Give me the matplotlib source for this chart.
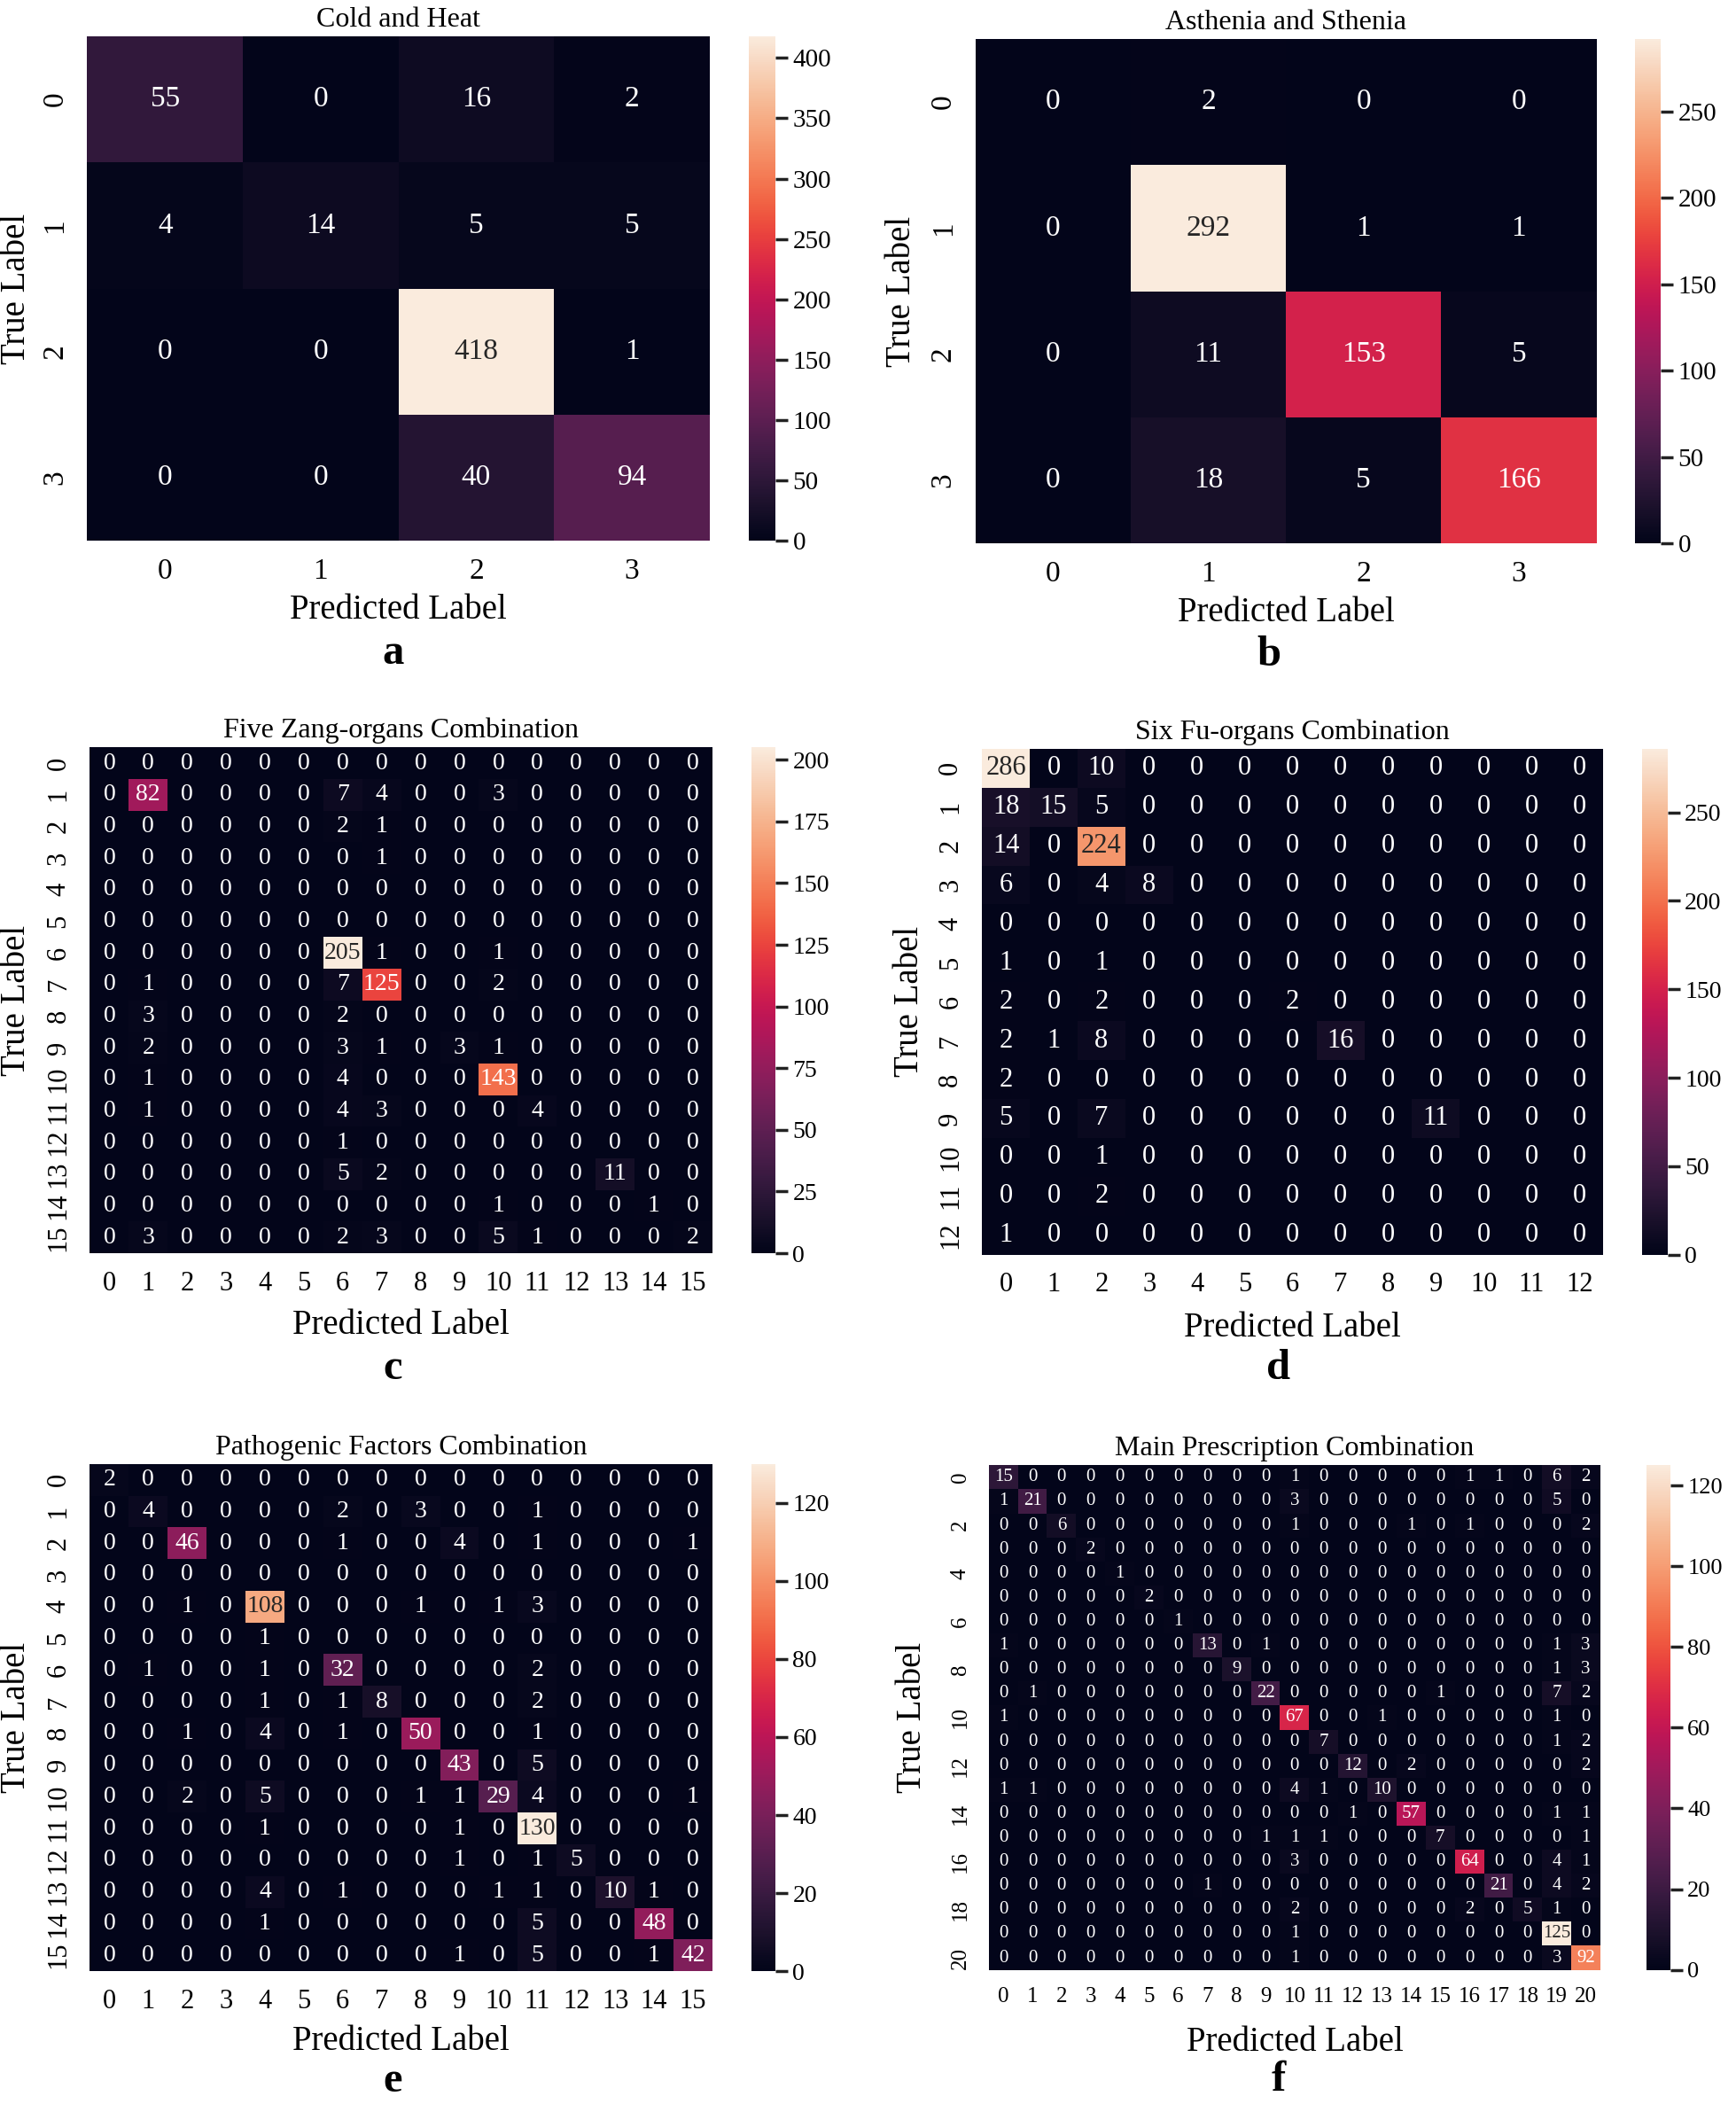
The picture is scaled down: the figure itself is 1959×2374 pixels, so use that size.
import numpy as np
import matplotlib.pyplot as plt
import seaborn as sns
from matplotlib.ticker import MultipleLocator

plt.rcParams['font.family'] = 'serif'
plt.rcParams['font.serif'] = ['Liberation Serif', 'DejaVu Serif']

# ---- datos de las matrices de confusion ----
cold_heat = [[55, 0, 16, 2],
             [4, 14, 5, 5],
             [0, 0, 418, 1],
             [0, 0, 40, 94]]

asthenia_sthenia = [[0, 2, 0, 0],
                    [0, 292, 1, 1],
                    [0, 11, 153, 5],
                    [0, 18, 5, 166]]

five_zang = [[0, 0, 0, 0, 0, 0, 0, 0, 0, 0, 0, 0, 0, 0, 0, 0],
             [0, 82, 0, 0, 0, 0, 7, 4, 0, 0, 3, 0, 0, 0, 0, 0],
             [0, 0, 0, 0, 0, 0, 2, 1, 0, 0, 0, 0, 0, 0, 0, 0],
             [0, 0, 0, 0, 0, 0, 0, 1, 0, 0, 0, 0, 0, 0, 0, 0],
             [0, 0, 0, 0, 0, 0, 0, 0, 0, 0, 0, 0, 0, 0, 0, 0],
             [0, 0, 0, 0, 0, 0, 0, 0, 0, 0, 0, 0, 0, 0, 0, 0],
             [0, 0, 0, 0, 0, 0, 205, 1, 0, 0, 1, 0, 0, 0, 0, 0],
             [0, 1, 0, 0, 0, 0, 7, 125, 0, 0, 2, 0, 0, 0, 0, 0],
             [0, 3, 0, 0, 0, 0, 2, 0, 0, 0, 0, 0, 0, 0, 0, 0],
             [0, 2, 0, 0, 0, 0, 3, 1, 0, 3, 1, 0, 0, 0, 0, 0],
             [0, 1, 0, 0, 0, 0, 4, 0, 0, 0, 143, 0, 0, 0, 0, 0],
             [0, 1, 0, 0, 0, 0, 4, 3, 0, 0, 0, 4, 0, 0, 0, 0],
             [0, 0, 0, 0, 0, 0, 1, 0, 0, 0, 0, 0, 0, 0, 0, 0],
             [0, 0, 0, 0, 0, 0, 5, 2, 0, 0, 0, 0, 0, 11, 0, 0],
             [0, 0, 0, 0, 0, 0, 0, 0, 0, 0, 1, 0, 0, 0, 1, 0],
             [0, 3, 0, 0, 0, 0, 2, 3, 0, 0, 5, 1, 0, 0, 0, 2]]

six_fu = [[286, 0, 10, 0, 0, 0, 0, 0, 0, 0, 0, 0, 0],
          [18, 15, 5, 0, 0, 0, 0, 0, 0, 0, 0, 0, 0],
          [14, 0, 224, 0, 0, 0, 0, 0, 0, 0, 0, 0, 0],
          [6, 0, 4, 8, 0, 0, 0, 0, 0, 0, 0, 0, 0],
          [0, 0, 0, 0, 0, 0, 0, 0, 0, 0, 0, 0, 0],
          [1, 0, 1, 0, 0, 0, 0, 0, 0, 0, 0, 0, 0],
          [2, 0, 2, 0, 0, 0, 2, 0, 0, 0, 0, 0, 0],
          [2, 1, 8, 0, 0, 0, 0, 16, 0, 0, 0, 0, 0],
          [2, 0, 0, 0, 0, 0, 0, 0, 0, 0, 0, 0, 0],
          [5, 0, 7, 0, 0, 0, 0, 0, 0, 11, 0, 0, 0],
          [0, 0, 1, 0, 0, 0, 0, 0, 0, 0, 0, 0, 0],
          [0, 0, 2, 0, 0, 0, 0, 0, 0, 0, 0, 0, 0],
          [1, 0, 0, 0, 0, 0, 0, 0, 0, 0, 0, 0, 0]]

pathogenic = [[2, 0, 0, 0, 0, 0, 0, 0, 0, 0, 0, 0, 0, 0, 0, 0],
              [0, 4, 0, 0, 0, 0, 2, 0, 3, 0, 0, 1, 0, 0, 0, 0],
              [0, 0, 46, 0, 0, 0, 1, 0, 0, 4, 0, 1, 0, 0, 0, 1],
              [0, 0, 0, 0, 0, 0, 0, 0, 0, 0, 0, 0, 0, 0, 0, 0],
              [0, 0, 1, 0, 108, 0, 0, 0, 1, 0, 1, 3, 0, 0, 0, 0],
              [0, 0, 0, 0, 1, 0, 0, 0, 0, 0, 0, 0, 0, 0, 0, 0],
              [0, 1, 0, 0, 1, 0, 32, 0, 0, 0, 0, 2, 0, 0, 0, 0],
              [0, 0, 0, 0, 1, 0, 1, 8, 0, 0, 0, 2, 0, 0, 0, 0],
              [0, 0, 1, 0, 4, 0, 1, 0, 50, 0, 0, 1, 0, 0, 0, 0],
              [0, 0, 0, 0, 0, 0, 0, 0, 0, 43, 0, 5, 0, 0, 0, 0],
              [0, 0, 2, 0, 5, 0, 0, 0, 1, 1, 29, 4, 0, 0, 0, 1],
              [0, 0, 0, 0, 1, 0, 0, 0, 0, 1, 0, 130, 0, 0, 0, 0],
              [0, 0, 0, 0, 0, 0, 0, 0, 0, 1, 0, 1, 5, 0, 0, 0],
              [0, 0, 0, 0, 4, 0, 1, 0, 0, 0, 1, 1, 0, 10, 1, 0],
              [0, 0, 0, 0, 1, 0, 0, 0, 0, 0, 0, 5, 0, 0, 48, 0],
              [0, 0, 0, 0, 0, 0, 0, 0, 0, 1, 0, 5, 0, 0, 1, 42]]

main_prescription = [
    [15, 0, 0, 0, 0, 0, 0, 0, 0, 0, 1, 0, 0, 0, 0, 0, 1, 1, 0, 6, 2],
    [1, 21, 0, 0, 0, 0, 0, 0, 0, 0, 3, 0, 0, 0, 0, 0, 0, 0, 0, 5, 0],
    [0, 0, 6, 0, 0, 0, 0, 0, 0, 0, 1, 0, 0, 0, 1, 0, 1, 0, 0, 0, 2],
    [0, 0, 0, 2, 0, 0, 0, 0, 0, 0, 0, 0, 0, 0, 0, 0, 0, 0, 0, 0, 0],
    [0, 0, 0, 0, 1, 0, 0, 0, 0, 0, 0, 0, 0, 0, 0, 0, 0, 0, 0, 0, 0],
    [0, 0, 0, 0, 0, 2, 0, 0, 0, 0, 0, 0, 0, 0, 0, 0, 0, 0, 0, 0, 0],
    [0, 0, 0, 0, 0, 0, 1, 0, 0, 0, 0, 0, 0, 0, 0, 0, 0, 0, 0, 0, 0],
    [1, 0, 0, 0, 0, 0, 0, 13, 0, 1, 0, 0, 0, 0, 0, 0, 0, 0, 0, 1, 3],
    [0, 0, 0, 0, 0, 0, 0, 0, 9, 0, 0, 0, 0, 0, 0, 0, 0, 0, 0, 1, 3],
    [0, 1, 0, 0, 0, 0, 0, 0, 0, 22, 0, 0, 0, 0, 0, 1, 0, 0, 0, 7, 2],
    [1, 0, 0, 0, 0, 0, 0, 0, 0, 0, 67, 0, 0, 1, 0, 0, 0, 0, 0, 1, 0],
    [0, 0, 0, 0, 0, 0, 0, 0, 0, 0, 0, 7, 0, 0, 0, 0, 0, 0, 0, 1, 2],
    [0, 0, 0, 0, 0, 0, 0, 0, 0, 0, 0, 0, 12, 0, 2, 0, 0, 0, 0, 0, 2],
    [1, 1, 0, 0, 0, 0, 0, 0, 0, 0, 4, 1, 0, 10, 0, 0, 0, 0, 0, 0, 0],
    [0, 0, 0, 0, 0, 0, 0, 0, 0, 0, 0, 0, 1, 0, 57, 0, 0, 0, 0, 1, 1],
    [0, 0, 0, 0, 0, 0, 0, 0, 0, 1, 1, 1, 0, 0, 0, 7, 0, 0, 0, 0, 1],
    [0, 0, 0, 0, 0, 0, 0, 0, 0, 0, 3, 0, 0, 0, 0, 0, 64, 0, 0, 4, 1],
    [0, 0, 0, 0, 0, 0, 0, 1, 0, 0, 0, 0, 0, 0, 0, 0, 0, 21, 0, 4, 2],
    [0, 0, 0, 0, 0, 0, 0, 0, 0, 0, 2, 0, 0, 0, 0, 0, 2, 0, 5, 1, 0],
    [0, 0, 0, 0, 0, 0, 0, 0, 0, 0, 1, 0, 0, 0, 0, 0, 0, 0, 0, 125, 0],
    [0, 0, 0, 0, 0, 0, 0, 0, 0, 0, 1, 0, 0, 0, 0, 0, 0, 0, 0, 3, 92]]

titles = ["Cold and Heat", "Asthenia and Sthenia", "Five Zang-organs Combination",
          "Six Fu-organs Combination", "Pathogenic Factors Combination",
          "Main Prescription Combination"]
letters = ["a", "b", "c", "d", "e", "f"]
cbar_steps = [50, 50, 25, 50, 20, 20]
ytick_steps = [1, 1, 1, 1, 1, 2]
matrices = [cold_heat, asthenia_sthenia, five_zang, six_fu, pathogenic, main_prescription]

# ---- posiciones (en pixeles de la imagen de referencia reducida 1294x1568) ----
W, H = 1294, 1568
def rect(l, t, r, b):
    return [l / W, 1 - b / H, (r - l) / W, (b - t) / H]

heat_boxes = [(65, 27, 529, 403), (727, 29, 1190, 405),
              (67, 557, 531, 934), (732, 558, 1195, 935),
              (67, 1091, 531, 1469), (737, 1092, 1193, 1468)]
cbar_boxes = [(558, 27, 578, 403), (1219, 29, 1238, 405),
              (560, 557, 578, 934), (1224, 558, 1243, 935),
              (560, 1091, 578, 1469), (1227, 1092, 1245, 1468)]
letter_pos = [(293, 487), (946, 488), (293, 1020), (953, 1020), (293, 1551), (953, 1550)]
xlabel_y = [-0.138, -0.138, -0.143, -0.146, -0.138, -0.144]
ylabel_x = [-0.114, -0.119, -0.118, -0.117, -0.118, -0.125]
annot_size = [24, 24, 20, 22, 20, 15]
tick_size = [24, 24, 22, 22, 22, 18]
cbar_size = [21, 21, 20, 20, 20, 19]

fig = plt.figure(figsize=(19.59, 23.74), dpi=100)

for i in range(6):
    datos = np.array(matrices[i])
    n = datos.shape[0]
    ax = fig.add_axes(rect(*heat_boxes[i]))
    cax = fig.add_axes(rect(*cbar_boxes[i]))
    sns.heatmap(datos, annot=True, fmt='d', cmap='rocket', ax=ax, cbar_ax=cax,
                annot_kws={'size': annot_size[i]})

    ax.set_xticks(np.arange(n) + 0.5)
    ax.set_xticklabels([str(k) for k in range(n)], rotation=0, fontsize=tick_size[i])
    yt = np.arange(0, n, ytick_steps[i])
    ax.set_yticks(yt + 0.5)
    ax.set_yticklabels([str(k) for k in yt], rotation=90, va='center', fontsize=tick_size[i])
    ax.tick_params(axis='both', length=0)
    ax.tick_params(axis='x', pad=14)
    ax.tick_params(axis='y', pad=15)

    ax.set_title(titles[i], fontsize=23, pad=8)
    ax.set_xlabel("Predicted Label", fontsize=28)
    ax.set_ylabel("True Label", fontsize=28)
    ax.xaxis.set_label_coords(0.5, xlabel_y[i])
    ax.xaxis.label.set_va('center')
    ax.yaxis.set_label_coords(ylabel_x[i], 0.5)
    ax.yaxis.label.set_va('center')

    cax.yaxis.set_major_locator(MultipleLocator(cbar_steps[i]))
    cax.tick_params(labelsize=cbar_size[i], length=10, width=2.5, color='#222222', pad=4)

    fig.text(letter_pos[i][0] / W, 1 - letter_pos[i][1] / H, letters[i],
             fontsize=35, fontweight='bold', ha='center', va='center')

fig.savefig("out.png", dpi=100)
